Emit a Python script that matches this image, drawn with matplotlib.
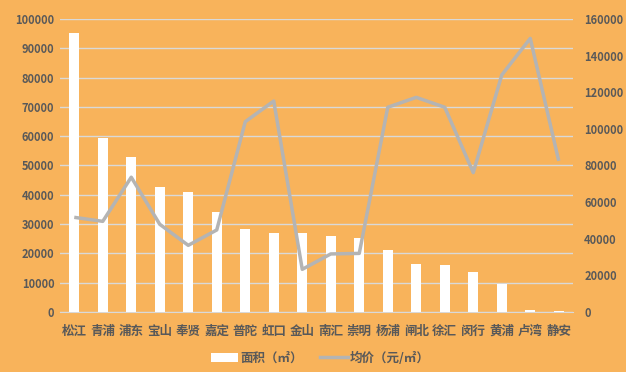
import matplotlib
matplotlib.use("Agg")
import matplotlib.pyplot as plt
from matplotlib.patches import Patch
from matplotlib.lines import Line2D

plt.rcParams['font.family'] = ['Noto Sans CJK SC', 'DejaVu Sans']

districts = ["松江", "青浦", "浦东", "宝山", "奉贤", "嘉定", "普陀", "虹口", "金山",
             "南汇", "崇明", "杨浦", "闸北", "徐汇", "闵行", "黄浦", "卢湾", "静安"]
area = [95200, 59400, 52900, 42700, 41000, 34100, 28300, 27000, 27000,
        26000, 25300, 21200, 16400, 16000, 13700, 9600, 700, 400]
price = [51700, 49500, 73600, 47900, 36400, 44800, 103900, 115200, 23300,
         31700, 32000, 111800, 117200, 111800, 76100, 129400, 149400, 82500]
left_ticks = list(range(0, 100001, 10000))
right_ticks = list(range(0, 160001, 20000))

bg = "#F8B35B"
txt = "#595959"
grid = "#D9D9D9"
linec = "#B4B4B4"

fig = plt.figure(figsize=(6.26, 3.72), dpi=100, facecolor=bg)
ax = fig.add_axes([60/626, 60/372, 513/626, 293/372], facecolor=bg)
x = list(range(len(districts)))
ax.bar(x, area, width=0.35, color="white", zorder=3)
ax.set_ylim(0, 100000)
ax.set_yticks(left_ticks)
ax.set_xlim(-0.5, len(districts) - 0.5)
ax.set_xticks(x)
ax.set_xticklabels(districts, fontsize=9, color=txt, fontweight="bold")
ax.yaxis.grid(True, color=grid, linewidth=1, zorder=0)
ax.set_axisbelow(True)
for s in ax.spines.values():
    s.set_visible(False)
ax.spines['bottom'].set_visible(True)
ax.spines['bottom'].set_color(grid)
ax.tick_params(axis='both', length=0)
ax.tick_params(axis='y', labelsize=8, labelcolor=txt, pad=4)
ax.tick_params(axis='x', pad=9)
for lab in ax.get_yticklabels():
    lab.set_fontweight("bold")

ax2 = ax.twinx()
ax2.plot(x, price, color=linec, linewidth=2.5, zorder=4, solid_capstyle="butt")
ax2.set_ylim(0, 160000)
ax2.set_yticks(right_ticks)
for s in ax2.spines.values():
    s.set_visible(False)
ax2.tick_params(axis='y', length=0, labelsize=8, labelcolor=txt, pad=8)
for lab in ax2.get_yticklabels():
    lab.set_fontweight("bold")

handles = [Patch(facecolor="white", edgecolor="none"),
           Line2D([0], [0], color=linec, linewidth=2.5)]
leg = fig.legend(handles, ["面积（㎡）", "均价（元/㎡）"], loc="center",
                 bbox_to_anchor=(320/626, 14/372), ncol=2, frameon=False,
                 fontsize=9, handlelength=2.2, columnspacing=1.4, handletextpad=0.15)
for t in leg.get_texts():
    t.set_color(txt)
    t.set_fontweight("bold")

fig.savefig("out.png", dpi=100, facecolor=bg)
